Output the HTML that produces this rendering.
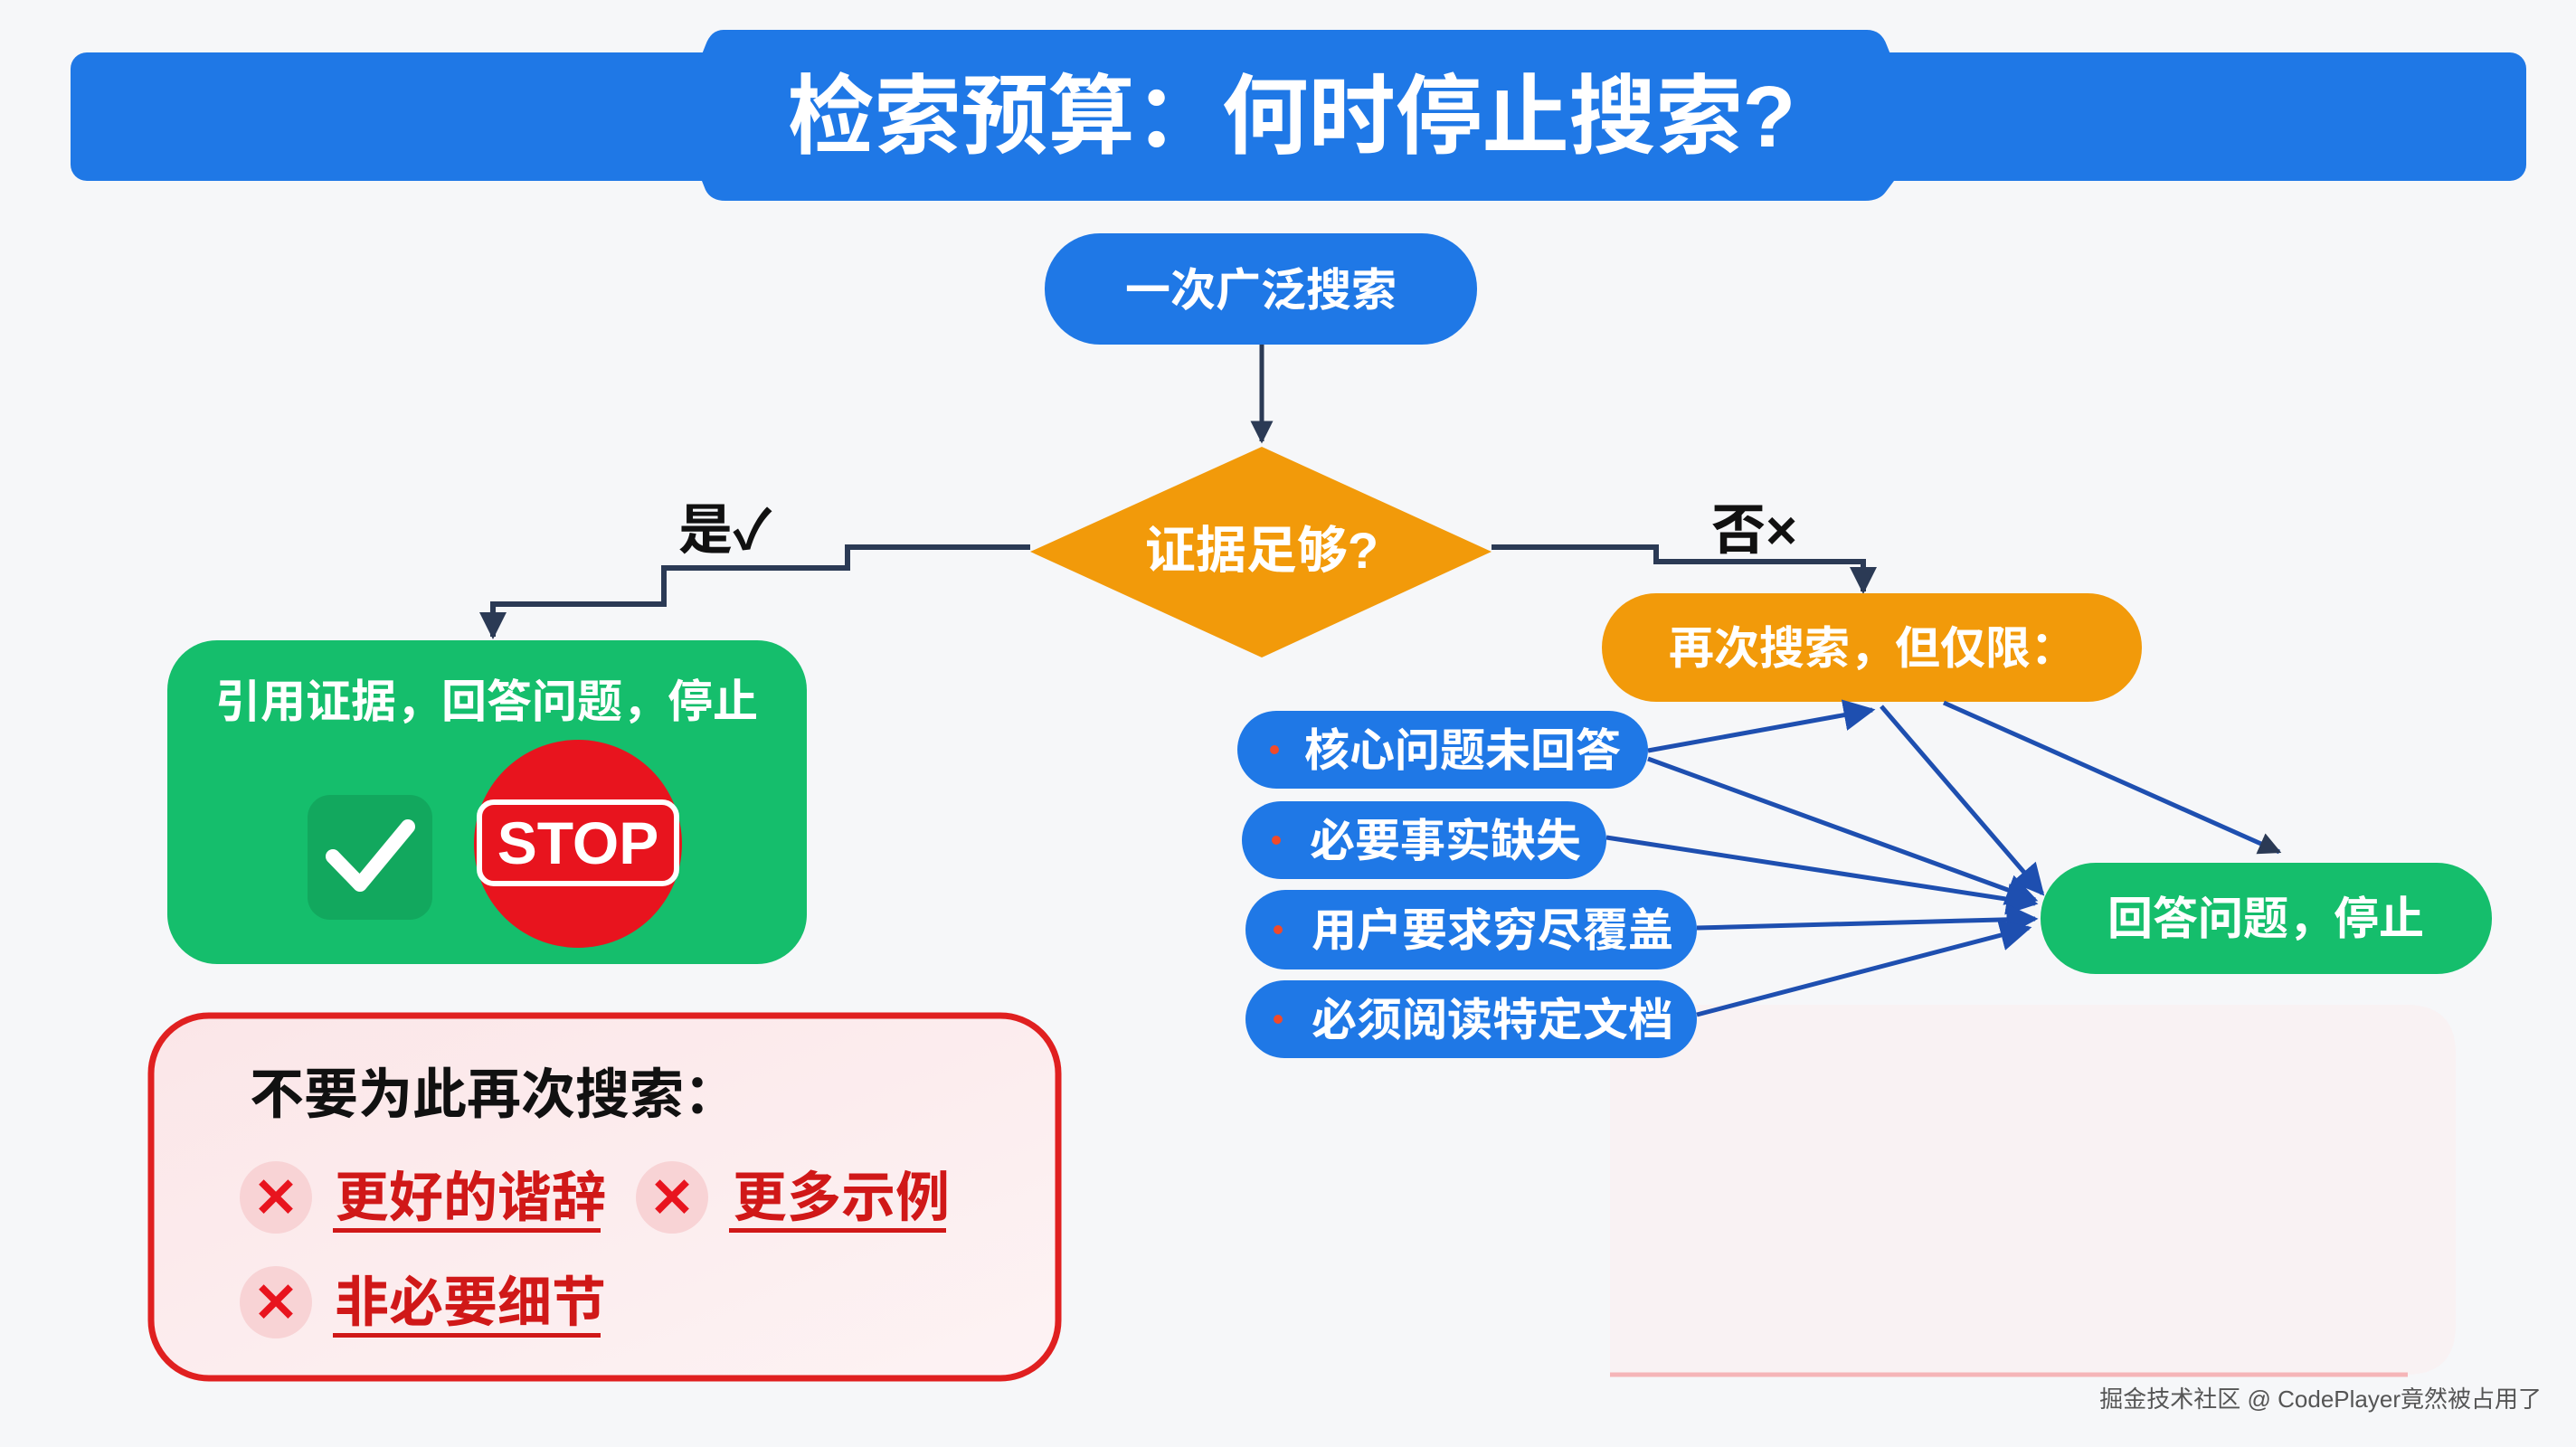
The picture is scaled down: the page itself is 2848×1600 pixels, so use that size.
<!DOCTYPE html>
<html><head><meta charset="utf-8"><style>
html,body{margin:0;padding:0;background:#f6f7f9;}
svg{display:block;}
text{font-family:"Liberation Sans","Noto Sans CJK SC",sans-serif;}
</style></head><body>
<svg width="2848" height="1600" viewBox="0 0 2848 1600" xmlns="http://www.w3.org/2000/svg">
<defs>
<marker id="ah" viewBox="0 0 10 10" refX="9" refY="5" markerWidth="5" markerHeight="5" orient="auto-start-reverse"><path d="M0,0 L10,5 L0,10 z" fill="#2b3a55"/></marker>
<marker id="bh" viewBox="0 0 10 10" refX="9" refY="5" markerWidth="7" markerHeight="7" orient="auto"><path d="M0,0 L10,5 L0,10 z" fill="#1e4fb0"/></marker>
<linearGradient id="pink" x1="0" y1="0" x2="1" y2="1"><stop offset="0" stop-color="#fbe6e8"/><stop offset="1" stop-color="#fdf3f4"/></linearGradient>
</defs>
<rect width="2848" height="1600" fill="#f6f7f9"/>
<rect x="78" y="58" width="2715" height="142" rx="18" fill="#1f78e6"/>
<path d="M800,33 L2064,33 Q2080,33 2086,50 L2094,70 L2094,200 L2085,212 Q2078,222 2062,222 L802,222 Q786,222 780,210 L772,190 L772,70 L780,50 Q786,33 800,33 z" fill="#1f78e6"/>
<text x="1428" y="162" font-size="96" font-weight="bold" fill="#fff" text-anchor="middle">检索预算：何时停止搜索?</text>
<rect x="1155" y="258" width="478" height="123" rx="61" fill="#1f78e6"/>
<text x="1394" y="338" font-size="50" font-weight="bold" fill="#fff" text-anchor="middle">一次广泛搜索</text>
<line x1="1395" y1="381" x2="1395" y2="488" stroke="#2b3a55" stroke-width="5" marker-end="url(#ah)"/>
<polygon points="1395,494 1649,610 1395,727 1139,610" fill="#f29a0a"/>
<text x="1395" y="628" font-size="56" font-weight="bold" fill="#fff" text-anchor="middle">证据足够?</text>
<polyline points="1139,605 937,605 937,628 734,628 734,668 545,668 545,704" fill="none" stroke="#2b3a55" stroke-width="6" marker-end="url(#ah)"/>
<text x="750" y="607" font-size="60" font-weight="bold" fill="#111">是✓</text>
<polyline points="1649,605 1831,605 1831,621 2060,621 2060,654" fill="none" stroke="#2b3a55" stroke-width="6" marker-end="url(#ah)"/>
<text x="1892" y="607" font-size="60" font-weight="bold" fill="#111">否×</text>
<rect x="185" y="708" width="707" height="358" rx="55" fill="#15be6c"/>
<text x="538" y="793" font-size="50" font-weight="bold" fill="#fff" text-anchor="middle">引用证据，回答问题，停止</text>
<rect x="340" y="879" width="138" height="138" rx="25" fill="#12a85e"/>
<polyline points="368,947 398,978 451,914" fill="none" stroke="#fff" stroke-width="16" stroke-linecap="round" stroke-linejoin="round"/>
<circle cx="639" cy="933" r="115" fill="#e8141e"/>
<rect x="530" y="887" width="218" height="90" rx="16" fill="none" stroke="#fff" stroke-width="6"/>
<text x="639" y="955" font-size="66" font-weight="bold" fill="#fff" text-anchor="middle">STOP</text>
<rect x="167" y="1123" width="1003" height="401" rx="64" fill="url(#pink)" stroke="#e02020" stroke-width="7"/>
<text x="276" y="1231" font-size="60" font-weight="bold" fill="#111">不要为此再次搜索：</text>
<g font-size="60" font-weight="bold" fill="#d01818">
<circle cx="305" cy="1324" r="40" fill="#f8d3d5"/><text x="305" y="1345" text-anchor="middle" fill="#e8141e">✕</text>
<text x="370" y="1345">更好的谐辞</text><rect x="368" y="1358" width="296" height="5"/>
<circle cx="743" cy="1324" r="40" fill="#f8d3d5"/><text x="743" y="1345" text-anchor="middle" fill="#e8141e">✕</text>
<text x="810" y="1345">更多示例</text><rect x="806" y="1358" width="240" height="5"/>
<circle cx="305" cy="1440" r="40" fill="#f8d3d5"/><text x="305" y="1461" text-anchor="middle" fill="#e8141e">✕</text>
<text x="370" y="1461">非必要细节</text><rect x="368" y="1474" width="296" height="5"/>
</g>
<path d="M1780,1520 L2660,1520 Q2715,1520 2715,1465 L2715,1165 Q2715,1111 2660,1111 L1780,1111" fill="#fbf0f1" opacity="0.7"/>
<line x1="1780" y1="1520" x2="2662" y2="1520" stroke="#f5b5b8" stroke-width="5"/>
<rect x="1771" y="656" width="597" height="120" rx="60" fill="#f29a0a"/>
<text x="2070" y="734" font-size="50" font-weight="bold" fill="#fff" text-anchor="middle">再次搜索，但仅限：</text>
<g stroke="#1e4fb0" stroke-width="5" fill="none">
<line x1="1822" y1="830" x2="2070" y2="785" marker-end="url(#bh)"/>
<line x1="2080" y1="781" x2="2258" y2="988" marker-end="url(#bh)"/>
<line x1="1822" y1="839" x2="2250" y2="995" marker-end="url(#bh)"/>
<line x1="1776" y1="926" x2="2250" y2="999" marker-end="url(#bh)"/>
<line x1="1876" y1="1026" x2="2250" y2="1016" marker-end="url(#bh)"/>
<line x1="1876" y1="1122" x2="2243" y2="1026" marker-end="url(#bh)"/>
</g>
<line x1="2149" y1="777" x2="2520" y2="942" stroke="#1e4fb0" stroke-width="5" marker-end="url(#ah)"/>
<g font-size="50" font-weight="bold" fill="#fff">
<rect x="1368" y="786" width="454" height="86" rx="43" fill="#1f78e6"/><circle cx="1409" cy="829" r="5" fill="#f04a2a"/><text x="1442" y="847">核心问题未回答</text>
<rect x="1373" y="886" width="403" height="86" rx="43" fill="#1f78e6"/><circle cx="1411" cy="929" r="5" fill="#f04a2a"/><text x="1448" y="947">必要事实缺失</text>
<rect x="1377" y="984" width="499" height="88" rx="44" fill="#1f78e6"/><circle cx="1413" cy="1028" r="5" fill="#f04a2a"/><text x="1450" y="1046">用户要求穷尽覆盖</text>
<rect x="1377" y="1084" width="499" height="86" rx="43" fill="#1f78e6"/><circle cx="1413" cy="1127" r="5" fill="#f04a2a"/><text x="1450" y="1145">必须阅读特定文档</text>
</g>
<rect x="2256" y="954" width="499" height="123" rx="61" fill="#15be6c"/>
<text x="2505" y="1033" font-size="50" font-weight="bold" fill="#fff" text-anchor="middle">回答问题，停止</text>
<text x="2810" y="1556" font-size="26" fill="#555" text-anchor="end">掘金技术社区 @ CodePlayer竟然被占用了</text>
</svg>
</body></html>
